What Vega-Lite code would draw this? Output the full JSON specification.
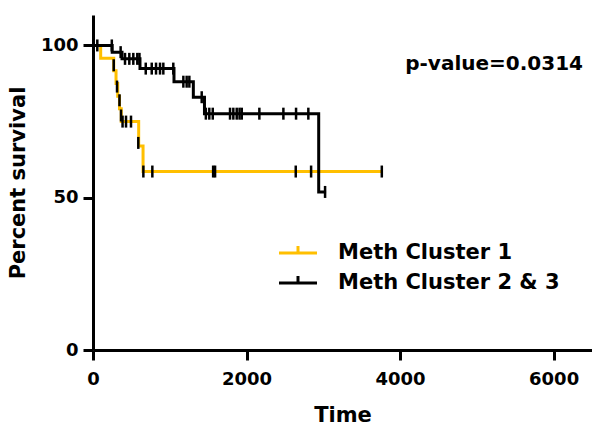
{
  "$schema": "https://vega.github.io/schema/vega-lite/v6.json",
  "width": 499,
  "height": 335,
  "autosize": {"type": "none"},
  "padding": {"left": 93, "top": 15, "right": 0, "bottom": 77},
  "background": "white",
  "config": {
    "view": {"stroke": null},
    "font": "DejaVu Sans",
    "axis": {
      "domainColor": "black",
      "domainWidth": 3,
      "tickColor": "black",
      "tickWidth": 3,
      "tickSize": 10,
      "grid": false,
      "labelFont": "DejaVu Sans",
      "labelFontWeight": "bold",
      "labelFontSize": 18,
      "labelColor": "black",
      "titleFont": "DejaVu Sans",
      "titleFontWeight": "bold",
      "titleFontSize": 21,
      "titleColor": "black",
      "labelFlush": false,
      "labelOverlap": false
    }
  },
  "datasets": {
    "curves": [
      {"series": "Meth Cluster 1", "t": 0, "v": 100},
      {"series": "Meth Cluster 1", "t": 100, "v": 95.8},
      {"series": "Meth Cluster 1", "t": 270, "v": 91.7},
      {"series": "Meth Cluster 1", "t": 300, "v": 87.5},
      {"series": "Meth Cluster 1", "t": 322, "v": 83.3},
      {"series": "Meth Cluster 1", "t": 345, "v": 79.2},
      {"series": "Meth Cluster 1", "t": 368, "v": 75},
      {"series": "Meth Cluster 1", "t": 595, "v": 67},
      {"series": "Meth Cluster 1", "t": 652, "v": 58.6},
      {"series": "Meth Cluster 1", "t": 3762, "v": 58.6},
      {"series": "Meth Cluster 2 & 3", "t": 0, "v": 100},
      {"series": "Meth Cluster 2 & 3", "t": 250, "v": 97.8},
      {"series": "Meth Cluster 2 & 3", "t": 378, "v": 95.6},
      {"series": "Meth Cluster 2 & 3", "t": 612, "v": 92.4},
      {"series": "Meth Cluster 2 & 3", "t": 1055, "v": 88.1},
      {"series": "Meth Cluster 2 & 3", "t": 1307, "v": 83},
      {"series": "Meth Cluster 2 & 3", "t": 1452, "v": 77.6},
      {"series": "Meth Cluster 2 & 3", "t": 2940, "v": 51.9},
      {"series": "Meth Cluster 2 & 3", "t": 3036, "v": 51.9}
    ],
    "censors": [
      {"series": "Meth Cluster 1", "t": 270, "v": 93.5},
      {"series": "Meth Cluster 1", "t": 313, "v": 86.5},
      {"series": "Meth Cluster 1", "t": 345, "v": 82},
      {"series": "Meth Cluster 1", "t": 365, "v": 77},
      {"series": "Meth Cluster 1", "t": 385, "v": 75},
      {"series": "Meth Cluster 1", "t": 430, "v": 75},
      {"series": "Meth Cluster 1", "t": 495, "v": 75},
      {"series": "Meth Cluster 1", "t": 590, "v": 68},
      {"series": "Meth Cluster 1", "t": 656, "v": 58.6},
      {"series": "Meth Cluster 1", "t": 773, "v": 58.6},
      {"series": "Meth Cluster 1", "t": 1565, "v": 58.6},
      {"series": "Meth Cluster 1", "t": 1590, "v": 58.6},
      {"series": "Meth Cluster 1", "t": 2641, "v": 58.6},
      {"series": "Meth Cluster 1", "t": 2841, "v": 58.6},
      {"series": "Meth Cluster 1", "t": 3762, "v": 58.6},
      {"series": "Meth Cluster 2 & 3", "t": 56, "v": 100},
      {"series": "Meth Cluster 2 & 3", "t": 245, "v": 100},
      {"series": "Meth Cluster 2 & 3", "t": 360, "v": 97.8},
      {"series": "Meth Cluster 2 & 3", "t": 417, "v": 95.6},
      {"series": "Meth Cluster 2 & 3", "t": 473, "v": 95.6},
      {"series": "Meth Cluster 2 & 3", "t": 525, "v": 95.6},
      {"series": "Meth Cluster 2 & 3", "t": 577, "v": 95.6},
      {"series": "Meth Cluster 2 & 3", "t": 605, "v": 95.6},
      {"series": "Meth Cluster 2 & 3", "t": 687, "v": 92.4},
      {"series": "Meth Cluster 2 & 3", "t": 765, "v": 92.4},
      {"series": "Meth Cluster 2 & 3", "t": 821, "v": 92.4},
      {"series": "Meth Cluster 2 & 3", "t": 873, "v": 92.4},
      {"series": "Meth Cluster 2 & 3", "t": 916, "v": 92.4},
      {"series": "Meth Cluster 2 & 3", "t": 1046, "v": 92.4},
      {"series": "Meth Cluster 2 & 3", "t": 1177, "v": 88.1},
      {"series": "Meth Cluster 2 & 3", "t": 1220, "v": 88.1},
      {"series": "Meth Cluster 2 & 3", "t": 1255, "v": 88.1},
      {"series": "Meth Cluster 2 & 3", "t": 1416, "v": 83},
      {"series": "Meth Cluster 2 & 3", "t": 1470, "v": 77.6},
      {"series": "Meth Cluster 2 & 3", "t": 1515, "v": 77.6},
      {"series": "Meth Cluster 2 & 3", "t": 1560, "v": 77.6},
      {"series": "Meth Cluster 2 & 3", "t": 1785, "v": 77.6},
      {"series": "Meth Cluster 2 & 3", "t": 1828, "v": 77.6},
      {"series": "Meth Cluster 2 & 3", "t": 1872, "v": 77.6},
      {"series": "Meth Cluster 2 & 3", "t": 1909, "v": 77.6},
      {"series": "Meth Cluster 2 & 3", "t": 1938, "v": 77.6},
      {"series": "Meth Cluster 2 & 3", "t": 2167, "v": 77.6},
      {"series": "Meth Cluster 2 & 3", "t": 2480, "v": 77.6},
      {"series": "Meth Cluster 2 & 3", "t": 2645, "v": 77.6},
      {"series": "Meth Cluster 2 & 3", "t": 2805, "v": 77.6},
      {"series": "Meth Cluster 2 & 3", "t": 3023, "v": 51.9}
    ],
    "note": [
      {"label": "p-value=0.0314", "t": 5225, "v": 94}
    ]
  },
  "layer": [
    {
      "data": {"name": "curves"},
      "mark": {"type": "line", "interpolate": "step-after", "strokeWidth": 3},
      "encoding": {
        "x": {
          "field": "t", "type": "quantitative",
          "scale": {"domain": [0, 6500], "nice": false, "zero": false},
          "axis": {"title": "Time", "values": [0, 2000, 4000, 6000], "format": "d", "labelPadding": 10, "titlePadding": 16}
        },
        "y": {
          "field": "v", "type": "quantitative",
          "scale": {"domain": [0, 110], "nice": false},
          "axis": {"title": "Percent survival", "values": [0, 50, 100], "format": "d", "labelPadding": 5, "titlePadding": 12}
        },
        "color": {
          "field": "series", "type": "nominal",
          "scale": {"domain": ["Meth Cluster 1", "Meth Cluster 2 & 3"], "range": ["#FFBF00", "#000000"]},
          "legend": {
            "title": null,
            "orient": "none",
            "legendX": 194,
            "legendY": 227,
            "padding": 0,
            "symbolType": "M-2,0H2M0,0V-0.75",
            "symbolSize": 361,
            "symbolStrokeWidth": 3,
            "labelFont": "DejaVu Sans",
            "labelFontWeight": "bold",
            "labelFontSize": 21,
            "labelColor": "black",
            "labelOffset": 29,
            "labelLimit": 0,
            "rowPadding": 6
          }
        }
      }
    },
    {
      "data": {"name": "censors"},
      "mark": {"type": "tick", "orient": "vertical", "color": "black", "size": 12, "thickness": 2.5, "opacity": 1},
      "encoding": {
        "x": {"field": "t", "type": "quantitative"},
        "y": {"field": "v", "type": "quantitative"}
      }
    },
    {
      "data": {"name": "note"},
      "mark": {"type": "text", "font": "DejaVu Sans", "fontWeight": "bold", "fontSize": 20, "color": "black", "align": "center", "baseline": "middle"},
      "encoding": {
        "x": {"field": "t", "type": "quantitative"},
        "y": {"field": "v", "type": "quantitative"},
        "text": {"field": "label"}
      }
    }
  ]
}
